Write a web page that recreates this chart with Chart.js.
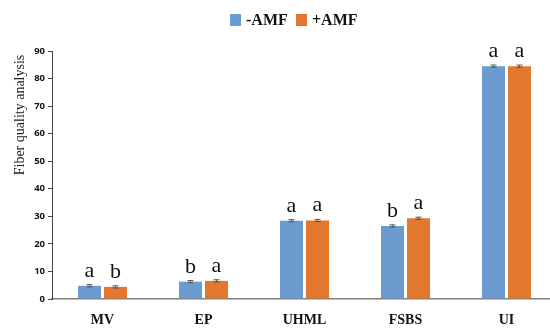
<!DOCTYPE html>
<html>
<head>
<meta charset="utf-8">
<script src="https://cdn.jsdelivr.net/npm/chart.js@4.4.1/dist/chart.umd.min.js"></script>
<style>
  html, body { margin: 0; padding: 0; background: #fff; overflow: hidden; }
  #wrap { width: 557px; height: 328px; }
</style>
</head>
<body>
<div id="wrap"><canvas id="c" width="557" height="328"></canvas></div>
<script>
// Fiber quality traits
const categories = ['MV', 'EP', 'UHML', 'FSBS', 'UI'];
const seriesNames = ['-AMF', '+AMF'];
const minusAMF = [4.8, 6.3, 28.4, 26.5, 84.5];
const plusAMF = [4.4, 6.6, 28.5, 29.3, 84.5];
const minusErr = [0.4, 0.4, 0.4, 0.4, 0.4];
const plusErr = [0.4, 0.4, 0.4, 0.4, 0.4];
const minusLetters = ['a', 'b', 'a', 'b', 'a'];
const plusLetters = ['b', 'a', 'a', 'a', 'a'];
const yTicks = [0, 10, 20, 30, 40, 50, 60, 70, 80, 90];

const colors = ['#6c9bcf', '#e2782e'];

// error bars and significance letters on top of each bar
const annotate = {
  id: 'annotate',
  afterDatasetsDraw(chart) {
    const ctx = chart.ctx;
    const y = chart.scales.y;
    const errs = [minusErr, plusErr];
    const letters = [minusLetters, plusLetters];
    chart.data.datasets.forEach((ds, di) => {
      const meta = chart.getDatasetMeta(di);
      meta.data.forEach((bar, i) => {
        const v = ds.data[i];
        const e = errs[di][i];
        const yt = y.getPixelForValue(v + e);
        const yb = y.getPixelForValue(v - e);
        ctx.save();
        ctx.strokeStyle = '#555';
        ctx.lineWidth = 1;
        ctx.beginPath();
        ctx.moveTo(bar.x, yt); ctx.lineTo(bar.x, yb);
        ctx.moveTo(bar.x - 3, yt); ctx.lineTo(bar.x + 3, yt);
        ctx.moveTo(bar.x - 3, yb); ctx.lineTo(bar.x + 3, yb);
        ctx.stroke();
        ctx.fillStyle = '#111';
        ctx.font = '22px "Liberation Serif", serif';
        ctx.textAlign = 'center';
        ctx.textBaseline = 'alphabetic';
        ctx.fillText(letters[di][i], bar.x, y.getPixelForValue(v) - 9);
        ctx.restore();
      });
    });
  }
};

// legend row and rotated axis title
const decor = {
  id: 'decor',
  afterDraw(chart) {
    const ctx = chart.ctx;
    ctx.save();
    const items = [{x: 230, tx: 246}, {x: 296, tx: 312}];
    ctx.font = 'bold 16px "Liberation Serif", serif';
    ctx.textBaseline = 'middle';
    ctx.textAlign = 'left';
    items.forEach((it, k) => {
      ctx.fillStyle = colors[k];
      ctx.fillRect(it.x, 14, 11, 12);
      ctx.fillStyle = '#111';
      ctx.fillText(seriesNames[k], it.tx, 20.5);
    });
    ctx.translate(20, 115);
    ctx.rotate(-Math.PI / 2);
    ctx.font = '14px "Liberation Serif", serif';
    ctx.textAlign = 'center';
    ctx.fillStyle = '#222';
    ctx.fillText('Fiber quality analysis', 0, 0);
    ctx.restore();
  }
};

new Chart(document.getElementById('c'), {
  type: 'bar',
  data: {
    labels: categories,
    datasets: [
      { label: seriesNames[0], data: minusAMF, backgroundColor: colors[0] },
      { label: seriesNames[1], data: plusAMF, backgroundColor: colors[1] }
    ]
  },
  options: {
    responsive: false,
    animation: false,
    layout: { padding: { top: 51, left: 0, right: 0, bottom: 0 } },
    categoryPercentage: 0.515,
    barPercentage: 0.885,
    plugins: { legend: { display: false }, tooltip: { enabled: false } },
    scales: {
      x: {
        afterFit(s) { s.height = 29; },
        grid: { display: false, drawTicks: false },
        border: { color: '#7f7f7f', width: 1.5 },
        ticks: {
          padding: 13,
          color: '#111',
          font: { family: '"Liberation Serif", serif', weight: 'bold', size: 14 }
        }
      },
      y: {
        min: 0, max: 90,
        afterBuildTicks(s) { s.ticks = yTicks.map(v => ({ value: v })); },
        afterFit(s) { s.width = 52; },
        grid: { drawOnChartArea: false, tickLength: 4, color: '#444' },
        border: { color: '#444', width: 1 },
        ticks: {
          padding: 3,
          color: '#111',
          font: { family: '"Open Sans", sans-serif', weight: 'bold', size: 9.5 }
        }
      }
    }
  },
  plugins: [annotate, decor]
});
</script>
</body>
</html>
